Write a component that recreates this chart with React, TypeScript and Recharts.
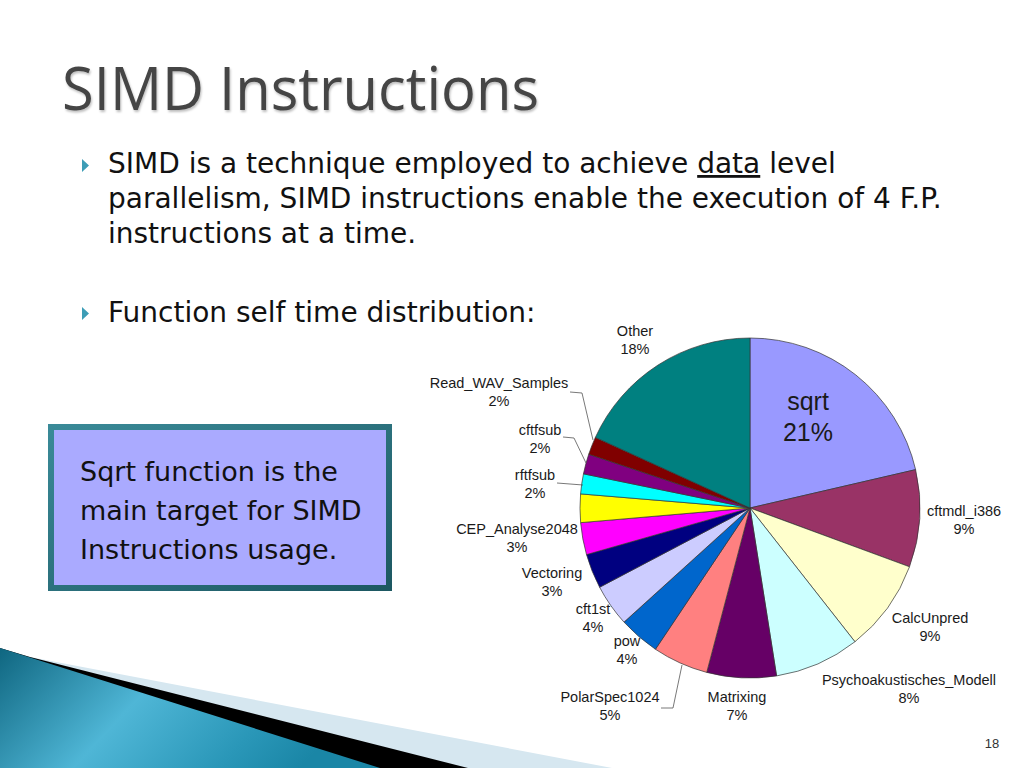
import React from 'react';
import { PieChart, Pie, Cell } from 'recharts';

// ---- data ----
const sliceNames = [
  'sqrt',
  'cftmdl_i386',
  'CalcUnpred',
  'Psychoakustisches_Modell',
  'Matrixing',
  'PolarSpec1024',
  'pow',
  'cft1st',
  'Vectoring',
  'CEP_Analyse2048',
  '(unlabeled)',
  'rftfsub',
  'cftfsub',
  'Read_WAV_Samples',
  'Other',
];
const sliceValues = [21.4, 9.25, 8.8, 8.1, 6.6, 5.3, 3.9, 4.0, 3.3, 3.05, 2.7, 1.9, 1.9, 1.7, 18.2];
const sliceColors = [
  '#9999FF', '#993366', '#FFFFCC', '#CCFFFF', '#660066', '#FF8080', '#0066CC',
  '#CCCCFF', '#000080', '#FF00FF', '#FFFF00', '#00FFFF', '#800080', '#800000', '#008080',
];

const titleText = 'SIMD Instructions';
const bulletLines1 = [
  'SIMD is a technique employed to achieve ',
  'parallelism, SIMD instructions enable the execution of 4 F.P.',
  'instructions at a time.',
];
const bulletLine2 = 'Function self time distribution:';
const boxLines = ['Sqrt function is the', 'main target for SIMD', 'Instructions usage.'];
const pageNumber = '18';

const chartData = sliceNames.map((name, i) => ({ name, value: sliceValues[i] }));

// ---- layout ----
const W = 1024;
const H = 768;
const PIE_CX = 750;
const PIE_CY = 508;
const PIE_R = 170;

type LabelPos = { dx: number; dy: number; gap?: number; size?: number; leader?: [number, number][] };
const labelLayout: Record<string, LabelPos> = {
  sqrt: { dx: 58, dy: -98, gap: 31, size: 25 },
  cftmdl_i386: { dx: 214, dy: 8 },
  CalcUnpred: { dx: 180, dy: 115 },
  Psychoakustisches_Modell: { dx: 159, dy: 177 },
  Matrixing: { dx: -13, dy: 194 },
  PolarSpec1024: { dx: -140, dy: 194, leader: [[-89, 200], [-77, 200], [-68, 157]] },
  pow: { dx: -123, dy: 138 },
  cft1st: { dx: -157, dy: 106 },
  Vectoring: { dx: -198, dy: 70 },
  CEP_Analyse2048: { dx: -233, dy: 26 },
  rftfsub: { dx: -215, dy: -28, leader: [[-193, -25], [-167, -23]] },
  cftfsub: { dx: -210, dy: -73, leader: [[-187, -71], [-176, -70], [-164, -45]] },
  Read_WAV_Samples: { dx: -251, dy: -120, leader: [[-180, -116], [-168, -115], [-157, -68]] },
  Other: { dx: -115, dy: -172 },
};

const renderLabel = (props: any) => {
  const { name, percent } = props;
  const cx = props.cx ?? PIE_CX;
  const cy = props.cy ?? PIE_CY;
  const lp = labelLayout[name];
  if (!lp) return null;
  const size = lp.size ?? 14.5;
  const gap = lp.gap ?? 18;
  const x = cx + lp.dx;
  const y = cy + lp.dy;
  const pct = `${Math.round((percent ?? 0) * 100)}%`;
  return (
    <g key={`lbl-${name}`}>
      {lp.leader && (
        <polyline
          points={lp.leader.map(([a, b]) => `${cx + a},${cy + b}`).join(' ')}
          fill="none"
          stroke="#555"
          strokeWidth={0.8}
        />
      )}
      <text x={x} y={y} textAnchor="middle" fontFamily="'Liberation Sans', Arial, sans-serif" fontSize={size} fill="#1a1a1a">
        {name}
      </text>
      <text x={x} y={y + gap} textAnchor="middle" fontFamily="'Liberation Sans', Arial, sans-serif" fontSize={size} fill="#1a1a1a">
        {pct}
      </text>
    </g>
  );
};

const Slide = () => (
  <svg width={W} height={H} style={{ position: 'absolute', left: 0, top: 0 }}>
    <defs>
      <linearGradient id="teal" x1="0" y1="0" x2="1" y2="0.3">
        <stop offset="0" stopColor="#0f6680" />
        <stop offset="0.45" stopColor="#4fb6d6" />
        <stop offset="0.8" stopColor="#2a97b8" />
        <stop offset="1" stopColor="#1a86a6" />
      </linearGradient>
      <linearGradient id="boxBorder" x1="0" y1="0" x2="1" y2="1">
        <stop offset="0" stopColor="#3a8a98" />
        <stop offset="1" stopColor="#1d5862" />
      </linearGradient>
      <filter id="emboss" x="-5%" y="-5%" width="110%" height="120%">
        <feDropShadow dx="1" dy="2" stdDeviation="1" floodColor="#000" floodOpacity="0.25" />
      </filter>
    </defs>
    <rect x={0} y={0} width={W} height={H} fill="#ffffff" />

    {/* bottom-left swoosh */}
    <polygon points="0,648 30,657 612,768 0,768" fill="#d6e7f0" />
    <polygon points="0,648 30,657 468,768 0,768" fill="#000000" />
    <polygon points="0,648 380,768 0,768" fill="url(#teal)" />

    {/* title */}
    <text
      x={62}
      y={110}
      fontFamily="'Open Sans', 'Noto Sans', sans-serif"
      fontSize={60}
      fill="#454545"
      textLength={477}
      lengthAdjust="spacingAndGlyphs"
      filter="url(#emboss)"
    >
      {titleText}
    </text>

    {/* bullets */}
    <polygon points="82,159 89,165.5 82,172" fill="#3d9db6" />
    <polygon points="82,307 89,313.5 82,320" fill="#3d9db6" />
    <g fontFamily="'DejaVu Sans', sans-serif" fontSize={28} fill="#111">
      <text x={108} y={173}>
        {bulletLines1[0]}
        <tspan textDecoration="underline" style={{ textDecoration: 'underline' }}>data</tspan>
        {' level'}
      </text>
      <text x={108} y={208}>{bulletLines1[1]}</text>
      <text x={108} y={243}>{bulletLines1[2]}</text>
      <text x={108} y={322}>{bulletLine2}</text>
    </g>

    {/* callout box */}
    <rect x={51} y={427} width={338} height={161} fill="#aaaaff" stroke="url(#boxBorder)" strokeWidth={6} />
    <g fontFamily="'DejaVu Sans', sans-serif" fontSize={27} fill="#111">
      <text x={80} y={481}>{boxLines[0]}</text>
      <text x={80} y={520}>{boxLines[1]}</text>
      <text x={80} y={559}>{boxLines[2]}</text>
    </g>

    <text x={992} y={748} textAnchor="middle" fontFamily="'Liberation Sans', Arial, sans-serif" fontSize={13} fill="#333">
      {pageNumber}
    </text>
  </svg>
);

export default function App() {
  return (
    <div style={{ position: 'absolute', left: 0, top: 0, width: W, height: H, overflow: 'hidden', background: '#fff' }}>
      <Slide />
      <div style={{ position: 'absolute', left: 0, top: 0 }}>
        <PieChart width={W} height={H} margin={{ top: 0, right: 0, bottom: 0, left: 0 }}>
          <Pie
            data={chartData}
            dataKey="value"
            nameKey="name"
            cx={PIE_CX}
            cy={PIE_CY}
            outerRadius={PIE_R}
            startAngle={90}
            endAngle={-270}
            stroke="#333"
            strokeWidth={0.7}
            label={renderLabel}
            labelLine={false}
            isAnimationActive={false}
          >
            {chartData.map((d, i) => (
              <Cell key={d.name} fill={sliceColors[i]} />
            ))}
          </Pie>
        </PieChart>
      </div>
    </div>
  );
}
